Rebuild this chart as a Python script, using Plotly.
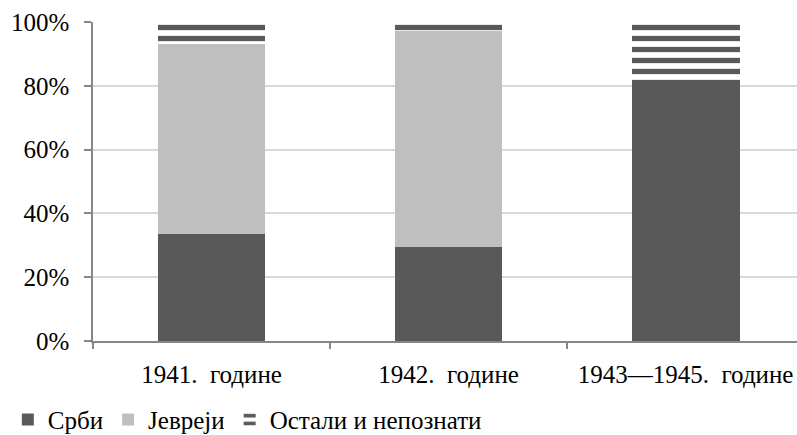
import plotly.graph_objects as go

categories = ["1941.\u00a0 године", "1942.\u00a0 године", "1943\u20141945.\u00a0 године"]
serbs = [33.4, 29.5, 80.8]
jews = [59.6, 67.7, 0.0]
others = [7.0, 2.8, 19.2]
y_ticks = [0, 20, 40, 60, 80, 100]
y_labels = ["0%", "20%", "40%", "60%", "80%", "100%"]

DARK = "#595959"
LIGHT = "#bfbfbf"
FONT = dict(family="Liberation Serif", size=25, color="#000000")

fig = go.Figure()
fig.add_bar(x=categories, y=serbs, name="Срби",
            marker=dict(color=DARK, line=dict(width=0)))
fig.add_bar(x=categories, y=jews, name="Јевреји",
            marker=dict(color=LIGHT, line=dict(width=0)))
fig.add_bar(x=categories, y=others, name="Остали и непознати",
            marker=dict(color=DARK, line=dict(width=0),
                        pattern=dict(shape="-", size=11, solidity=0.48,
                                     fgcolor=DARK, bgcolor="white",
                                     fillmode="replace")))

fig.update_layout(
    width=797, height=435,
    barmode="stack", bargap=0.545,
    margin=dict(l=93, r=0, t=22, b=94, autoexpand=False),
    paper_bgcolor="white", plot_bgcolor="white",
    font=FONT,
    showlegend=True,
    legend=dict(orientation="h", x=-0.121, xanchor="left", y=-0.175, yanchor="top",
                font=FONT, traceorder="normal", itemwidth=30,
                bgcolor="rgba(0,0,0,0)"),
)
fig.update_xaxes(
    type="category", range=[-0.5, 2.47], automargin=False,
    showline=True, linecolor="#868686", linewidth=1.5,
    ticks="outside", ticklen=6, tickcolor="#868686", tickwidth=1.5,
    tickson="boundaries", showgrid=False,
    ticklabelstandoff=10, tickfont=FONT,
)
fig.update_yaxes(
    range=[0, 100], tickmode="array", tickvals=y_ticks, ticktext=y_labels,
    automargin=False,
    showline=True, linecolor="#868686", linewidth=1.5,
    ticks="outside", ticklen=7, tickcolor="#868686", tickwidth=1.5,
    showgrid=True, gridcolor="#d9d9d9", gridwidth=1.5,
    zeroline=False, tickfont=FONT, ticklabelstandoff=10,
)

fig.write_html("out.html")
